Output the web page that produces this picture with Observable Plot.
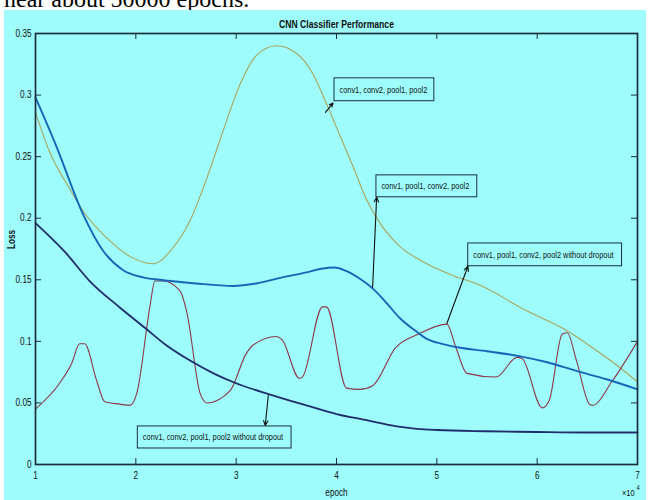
<!DOCTYPE html>
<html><head><meta charset="utf-8">
<script src="https://cdn.jsdelivr.net/npm/d3@7"></script>
<script src="https://cdn.jsdelivr.net/npm/@observablehq/plot@0.6"></script>
<style>
body{margin:0;background:#fff;}
#wrap{position:relative;width:649px;height:500px;overflow:hidden;background:#fff;}
#top{position:absolute;left:4px;top:-12.6px;font:24px/24px "Liberation Serif","Times New Roman",serif;color:#000;white-space:nowrap;}
#chart{position:absolute;left:4px;top:10px;}
</style></head><body>
<div id="wrap"><div id="top">near about 50000 epochs.</div><div id="chart"></div></div>
<script>
// epoch values are in units of 10^4
const xTicks = [1, 2, 3, 4, 5, 6, 7];
const yTicks = [0, 0.05, 0.1, 0.15, 0.2, 0.25, 0.3, 0.35];

// conv1, conv2, pool1, pool2 (olive)
const c2pX = [1.0,1.14,1.34,1.49,1.71,1.94,2.17,2.37,2.54,2.71,2.87,3.04,3.2,3.4,3.6,3.76,3.9,4.03,4.16,4.3,4.45,4.62,4.9,5.16,5.42,5.89,6.29,6.6,6.82,7.0];
const c2pY = [0.286,0.254,0.224,0.204,0.184,0.169,0.163,0.176,0.198,0.233,0.271,0.309,0.332,0.340,0.334,0.318,0.293,0.268,0.243,0.215,0.194,0.178,0.163,0.1535,0.146,0.125,0.109,0.092,0.079,0.067];

// conv1, pool1, conv2, pool2 (blue)
const cpX = [1.0,1.21,1.47,1.67,1.87,2.07,2.24,2.6,2.97,3.2,3.46,3.7,3.85,3.98,4.1,4.23,4.36,4.5,4.63,4.78,4.9,5.05,5.22,5.5,5.82,6.1,6.39,6.7,7.0];
const cpY = [0.298,0.258,0.204,0.174,0.158,0.152,0.150,0.147,0.145,0.147,0.152,0.156,0.159,0.160,0.157,0.151,0.143,0.131,0.119,0.109,0.102,0.098,0.095,0.092,0.088,0.083,0.076,0.069,0.061];

// conv1, conv2, pool1, pool2 without dropout (navy)
const c2pNoX = [1.0,1.3,1.54,1.84,2.09,2.3,2.57,2.8,2.98,3.33,3.7,4.0,4.3,4.6,4.8,5.0,5.5,6.0,6.5,7.0];
const c2pNoY = [0.196,0.172,0.149,0.1275,0.111,0.097,0.083,0.073,0.0666,0.057,0.048,0.041,0.036,0.031,0.029,0.028,0.027,0.0264,0.026,0.026];

// conv1, pool1, conv2, pool2 without dropout (maroon)
const cpNoX = [1.0,1.24,1.36,1.44,1.49,1.61,1.69,1.84,1.94,2.01,2.14,2.19,2.27,2.44,2.51,2.64,2.71,2.94,3.1,3.17,3.4,3.46,3.63,3.66,3.86,3.9,4.1,4.23,4.36,4.59,4.82,5.1,5.19,5.3,5.59,5.8,5.85,6.05,6.12,6.25,6.3,6.39,6.52,6.55,6.75,7.0];
const cpNoY = [0.045,0.066,0.082,0.098,0.098,0.068,0.051,0.049,0.048,0.058,0.128,0.149,0.149,0.141,0.123,0.058,0.050,0.060,0.090,0.097,0.104,0.101,0.070,0.071,0.128,0.128,0.062,0.061,0.064,0.095,0.106,0.114,0.095,0.074,0.071,0.087,0.086,0.046,0.052,0.106,0.107,0.085,0.049,0.048,0.068,0.100];

// annotations (data units)
const noteLabels = ["conv1, conv2, pool1, pool2","conv1, pool1, conv2, pool2","conv1, pool1, conv2, pool2 without dropout","conv1, conv2, pool1, pool2 without dropout"];
const noteX1 = [3.98, 4.398, 5.313, 2.02];
const noteX2 = [4.975, 5.403, 6.846, 3.552];
const noteY1 = [0.295, 0.217, 0.161, 0.013];
const noteY2 = [0.3136, 0.2348, 0.1795, 0.0309];
const arrowX1 = [3.89, 4.36, 5.10, 3.32];
const arrowY1 = [0.286, 0.144, 0.1145, 0.056];
const arrowX2 = [3.965, 4.40, 5.31, 3.29];
const arrowY2 = [0.2935, 0.217, 0.161, 0.0317];

const rows = (xs, ys) => xs.map((x, i) => ({x, y: ys[i]}));
const notes = noteLabels.map((label, i) => ({label, x1: noteX1[i], x2: noteX2[i], y1: noteY1[i], y2: noteY2[i], ym: (noteY1[i] + noteY2[i]) / 2, ax1: arrowX1[i], ay1: arrowY1[i], ax2: arrowX2[i], ay2: arrowY2[i]}));

const W = 642, H = 490, mL = 31, mR = 9, mT = 23, mB = 36;
const pW = W - mL - mR, pH = H - mT - mB;
const font = '"Liberation Sans",Arial,sans-serif';
const ink = "#1b2f3f";
const curve = "monotone-x";

const chart = Plot.plot({
  width: W, height: H,
  marginLeft: mL, marginRight: mR, marginTop: mT, marginBottom: mB,
  style: {background: "#9efcfc", fontFamily: font, fontSize: "10px", color: "#111", overflow: "visible"},
  x: {domain: [1, 7]},
  y: {domain: [0, 0.35]},
  marks: [
    Plot.line(rows(c2pX, c2pY), {x: "x", y: "y", stroke: "#a9a55c", strokeWidth: 1.1, curve}),
    Plot.line(rows(cpNoX, cpNoY), {x: "x", y: "y", stroke: "#8c3848", strokeWidth: 1.1, curve}),
    Plot.line(rows(c2pNoX, c2pNoY), {x: "x", y: "y", stroke: "#1f2d6c", strokeWidth: 1.8, curve}),
    Plot.line(rows(cpX, cpY), {x: "x", y: "y", stroke: "#1666b8", strokeWidth: 1.9, curve}),
    Plot.tickX(xTicks, {x: d => d, insetTop: pH - 6, stroke: ink, strokeWidth: 1}),
    Plot.tickX(xTicks, {x: d => d, insetBottom: pH - 6, stroke: ink, strokeWidth: 1}),
    Plot.tickY(yTicks, {y: d => d, insetRight: pW - 6, stroke: ink, strokeWidth: 1}),
    Plot.tickY(yTicks, {y: d => d, insetLeft: pW - 6, stroke: ink, strokeWidth: 1}),
    Plot.frame({stroke: ink, strokeWidth: 1.7}),
    Plot.axisX({ticks: xTicks, tickSize: 0, tickPadding: 7, tickFormat: d => String(d), label: null, fontSize: 10}),
    Plot.axisY({ticks: yTicks, tickSize: 0, tickPadding: 4, tickFormat: d => String(+d.toFixed(2)), label: null, fontSize: 10}),
    Plot.rect(notes, {x1: "x1", x2: "x2", y1: "y1", y2: "y2", fill: "none", stroke: ink, strokeWidth: 1}),
    Plot.text(notes, {x: "x1", y: "ym", text: "label", textAnchor: "start", dx: 5, fontSize: 9, fill: "#111"}),
    Plot.arrow(notes, {x1: "ax1", y1: "ay1", x2: "ax2", y2: "ay2", stroke: "#111", strokeWidth: 1.1, headLength: 7, headAngle: 50}),
    Plot.text(["CNN Classifier Performance"], {frameAnchor: "top", lineAnchor: "middle", dy: -9, fontWeight: "bold", fontSize: 10.5, fill: "#111"}),
    Plot.text(["epoch"], {frameAnchor: "bottom", lineAnchor: "middle", dy: 28, fontSize: 10, fill: "#111"}),
    Plot.text(["Loss"], {frameAnchor: "left", lineAnchor: "middle", dx: -24, rotate: -90, fontWeight: "bold", fontSize: 10, fill: "#111"}),
    Plot.text(["×10"], {frameAnchor: "bottom-right", lineAnchor: "middle", dy: 29, dx: -3, textAnchor: "end", fontSize: 9, fill: "#111"}),
    Plot.text(["4"], {frameAnchor: "bottom-right", lineAnchor: "middle", dy: 23, dx: -1, textAnchor: "start", fontSize: 7, fill: "#111"})
  ]
});
document.getElementById("chart").appendChild(chart);
// emulate the narrow Helvetica of the original figure
chart.querySelectorAll("text").forEach(t => {
  const L = t.getComputedTextLength();
  if (L > 0) {
    t.setAttribute("textLength", (L * 0.82).toFixed(2));
    t.setAttribute("lengthAdjust", "spacingAndGlyphs");
  }
});
</script>
</body></html>
